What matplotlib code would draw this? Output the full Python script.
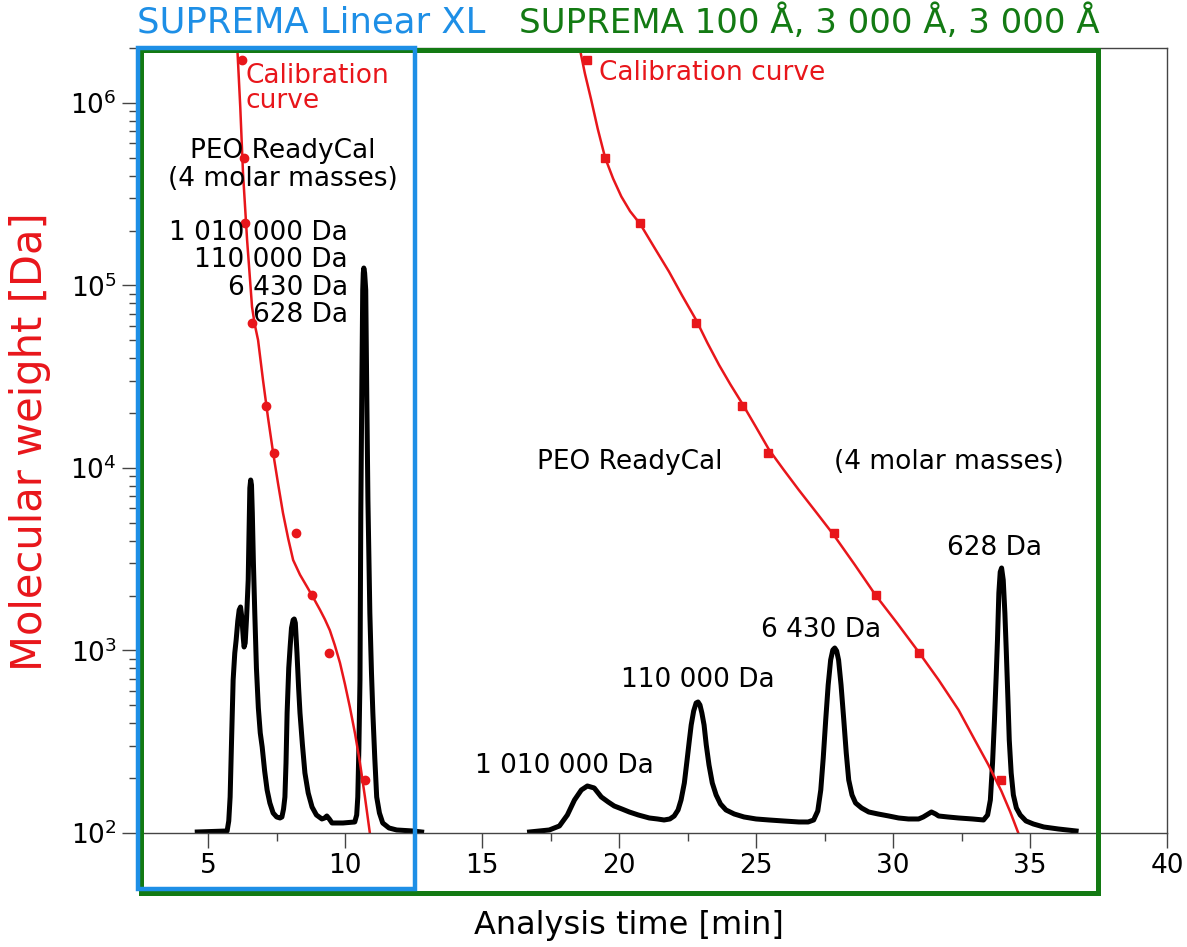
import numpy as np
import matplotlib
matplotlib.use('Agg')
import matplotlib.pyplot as plt
from matplotlib.patches import Rectangle
from matplotlib.ticker import MultipleLocator
import matplotlib.transforms as mtransforms

# chromatogram on SUPREMA Linear XL (time [min], detector signal [a.u.])
xl_time = [4.60, 5.69, 5.75, 5.80, 5.85, 5.91, 5.97, 6.02, 6.08, 6.13, 6.18, 6.23, 6.28,
           6.31, 6.35, 6.40, 6.46, 6.49, 6.52, 6.55, 6.58, 6.61, 6.65, 6.70, 6.76, 6.83,
           6.90, 6.97, 7.06, 7.15, 7.25, 7.37, 7.50, 7.62, 7.69, 7.75, 7.80, 7.84, 7.88,
           7.94, 7.99, 8.04, 8.10, 8.14, 8.18, 8.24, 8.30, 8.35, 8.44, 8.53, 8.65, 8.79,
           8.95, 9.15, 9.25, 9.33, 9.42, 9.52, 9.92, 10.35, 10.42, 10.46, 10.50, 10.54,
           10.57, 10.61, 10.64, 10.66, 10.68, 10.71, 10.75, 10.79, 10.83, 10.90, 10.96,
           11.01, 11.08, 11.15, 11.25, 11.37, 11.60, 11.88, 12.47, 12.79]
xl_signal = [1, 2, 12, 36, 90, 153, 180, 193, 212, 223, 226, 215, 195,
             186, 190, 215, 253, 300, 345, 353, 348, 320, 270, 220, 165, 125,
             100, 86, 62, 43, 30, 20, 16, 15, 16, 24, 36, 70, 120,
             165, 186, 205, 213, 214, 210, 180, 145, 120, 88, 60, 40, 26,
             18, 14, 15, 17, 14, 10, 10, 11, 18, 36, 85, 153,
             320, 453, 543, 560, 565, 560, 543, 433, 333, 220, 160,
             120, 75, 36, 20, 10, 5, 3, 2, 1]

# chromatogram on SUPREMA 100 A, 3000 A, 3000 A
sup_time = [16.73, 17.45, 17.82, 18.11, 18.37, 18.62, 18.84, 19.09, 19.35, 19.60, 19.82,
            20.10, 20.37, 20.70, 21.10, 21.40, 21.64, 21.85, 22.01, 22.15, 22.26, 22.38,
            22.48, 22.56, 22.63, 22.72, 22.81, 22.88, 22.95, 23.02, 23.10, 23.18, 23.28,
            23.40, 23.54, 23.70, 23.90, 24.20, 24.56, 25.00, 25.47, 26.00, 26.56, 26.90,
            27.10, 27.25, 27.36, 27.45, 27.54, 27.63, 27.72, 27.80, 27.87, 27.94, 28.01,
            28.10, 28.20, 28.29, 28.38, 28.50, 28.63, 28.85, 29.11, 29.45, 29.84, 30.20,
            30.56, 30.93, 31.10, 31.22, 31.40, 31.55, 31.66, 32.00, 32.39, 32.90, 33.30,
            33.45, 33.55, 33.63, 33.70, 33.76, 33.81, 33.86, 33.91, 33.96, 34.02, 34.08,
            34.13, 34.19, 34.24, 34.31, 34.39, 34.50, 34.64, 34.85, 35.12, 35.50, 36.03,
            36.68]
sup_signal = [1, 3, 7, 18, 33, 43, 47, 45, 36, 31, 27,
              24, 21, 18, 15, 14, 13, 14, 17, 23, 33, 50,
              73, 92, 108, 122, 130, 131, 128, 120, 108, 88, 68,
              50, 38, 29, 23, 19, 16, 14, 13, 12, 11, 11,
              13, 22, 43, 75, 113, 148, 173, 183, 185, 182, 173,
              148, 113, 80, 53, 38, 30, 25, 21, 19, 17, 15,
              14, 14, 16, 18, 21, 19, 17, 16, 15, 14, 13,
              18, 33, 70, 113, 155, 193, 240, 261, 265, 253, 220,
              183, 135, 93, 60, 38, 25, 18, 12, 9, 6, 4,
              2]

# PEO ReadyCal standards
cal_mw = [1.72e6, 4.98e5, 2.2e5, 6.25e4, 2.19e4, 1.21e4, 4.42e3, 2.01e3, 966, 195]
xl_cal_time = [6.23, 6.32, 6.35, 6.59, 7.11, 7.40, 8.19, 8.79, 9.41, 10.74]
sup_cal_time = [18.84, 19.49, 20.77, 22.81, 24.48, 25.43, 27.83, 29.36, 30.93, 33.95]

# fitted calibration curves
xl_fit_time = [6.06, 6.17, 6.27, 6.42, 6.60, 6.70, 6.82, 6.91, 7.00, 7.18, 7.37, 7.55,
               7.73, 7.92, 8.10, 8.35, 8.61, 8.85, 9.08, 9.26, 9.44, 9.62, 9.81, 9.99,
               10.17, 10.36, 10.54, 10.72, 10.90]
xl_fit_mw = [2.03e6, 9.5e5, 4.13e5, 1.77e5, 7.62e4, 6.1e4, 5.02e4, 3.9e4, 3.03e4, 1.9e4,
             1.21e4, 8.2e3, 5.66e3, 4.1e3, 3.13e3, 2.6e3, 2.23e3, 1.93e3, 1.67e3, 1.48e3,
             1.29e3, 1.07e3, 855, 655, 490, 350, 242, 158, 100]
sup_fit_time = [18.55, 18.75, 18.98, 19.22, 19.49, 19.78, 20.08, 20.40, 20.77, 21.30,
                21.82, 22.30, 22.81, 23.22, 23.65, 24.06, 24.48, 24.97, 25.47, 26.00,
                26.56, 27.20, 27.83, 28.60, 29.36, 30.15, 30.93, 31.66, 32.39, 32.95,
                33.48, 33.95, 34.28, 34.57]
sup_fit_mw = [2.03e6, 1.45e6, 1.04e6, 7.2e5, 5.0e5, 3.85e5, 3.07e5, 2.55e5, 2.17e5,
              1.6e5, 1.19e5, 8.8e4, 6.47e4, 4.85e4, 3.66e4, 2.87e4, 2.27e4, 1.7e4,
              1.26e4, 9.8e3, 7.57e3, 5.7e3, 4.30e3, 2.95e3, 2.01e3, 1.41e3, 982,
              690, 472, 330, 236, 170, 130, 100]

peak_labels = ['1 010 000 Da', '110 000 Da', '6 430 Da', '628 Da']

red = '#e8161b'
green = '#137a13'
blue = '#1e8fe6'
fs = 19

fig = plt.figure(figsize=(11.87, 9.47), dpi=100)
ax = fig.add_axes([0.1154, 0.1204, 0.8678, 0.8289])
sig = ax.twinx()
ax.set_zorder(2)
sig.set_zorder(1)
ax.patch.set_visible(False)

# detector traces
sig.plot(xl_time, xl_signal, color='black', lw=3.6, solid_joinstyle='round')
sig.plot(sup_time, sup_signal, color='black', lw=3.6, solid_joinstyle='round')
sig.set_ylim(0, 785)
sig.axis('off')

# calibration
ax.plot(xl_fit_time, xl_fit_mw, color=red, lw=1.8)
ax.plot(sup_fit_time, sup_fit_mw, color=red, lw=1.8)
ax.plot(xl_cal_time, cal_mw, 'o', color=red, ms=6)
ax.plot(sup_cal_time, cal_mw, 's', color=red, ms=5.5)

ax.set_yscale('log')
ax.set_xlim(2.4, 40)
ax.set_ylim(100, 2.0e6)
ax.set_xticks([5, 10, 15, 20, 25, 30, 35, 40])
ax.xaxis.set_minor_locator(MultipleLocator(2.5))
ax.tick_params(which='major', direction='out', length=11, width=1, color='#444444', labelsize=fs)
ax.tick_params(which='minor', direction='out', length=6, width=1, color='#444444')
for s in ax.spines.values():
    s.set_color('#444444')
    s.set_linewidth(1)

# column boxes
trans = mtransforms.blended_transform_factory(ax.transData, ax.transAxes)
ax.add_patch(Rectangle((2.43, -0.0713), 12.54 - 2.43, 1.0713, fill=False, ec=blue, lw=3.2,
                       transform=trans, clip_on=False, zorder=5))
ax.add_patch(Rectangle((2.54, -0.0764), 37.48 - 2.54, 1.0739, fill=False, ec=green, lw=3.6,
                       transform=trans, clip_on=False, zorder=4))
ax.text(2.41, 1.033, 'SUPREMA Linear XL', color=blue, fontsize=25.5, transform=trans,
        ha='left', va='center')
ax.text(16.36, 1.033, 'SUPREMA 100 Å, 3 000 Å, 3 000 Å', color=green, fontsize=24.5,
        transform=trans, ha='left', va='center')

# annotations, left column
ax.text(6.35, 1.66e6, 'Calibration\ncurve', color=red, fontsize=fs, ha='left', va='top',
        linespacing=0.95)
ax.text(7.73, 4.57e5, 'PEO ReadyCal\n(4 molar masses)', fontsize=fs, ha='center', va='center',
        linespacing=1.1)
for lab, m in zip(peak_labels, [1.94e5, 1.38e5, 9.7e4, 6.9e4]):
    ax.text(10.10, m, lab, fontsize=fs, ha='right', va='center')

# annotations, right columns
ax.text(19.28, 1.46e6, 'Calibration curve', color=red, fontsize=fs, ha='left', va='center')
ax.text(20.37, 1.08e4, 'PEO ReadyCal', fontsize=fs, ha='center', va='center')
ax.text(32.02, 1.08e4, '(4 molar masses)', fontsize=fs, ha='center', va='center')
for lab, tx, m in zip(peak_labels, [18.0, 22.88, 27.36, 33.70], [233, 689, 1294, 3650]):
    ax.text(tx, m, lab, fontsize=fs, ha='center', va='center')

fig.text(0.530, 0.0232, 'Analysis time [min]', fontsize=23, ha='center', va='center')
fig.text(0.0253, 0.5333, 'Molecular weight [Da]', fontsize=30, color=red, rotation=90,
         ha='center', va='center')

fig.savefig('out.png', dpi=100)
